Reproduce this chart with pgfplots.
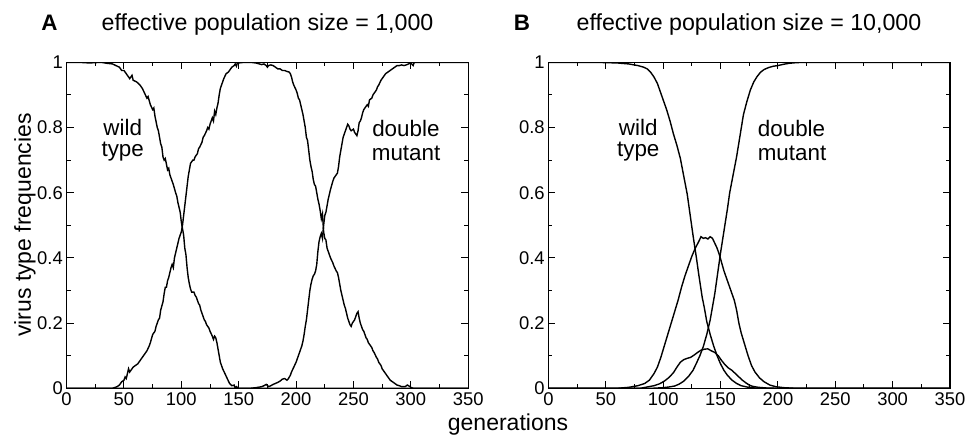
\documentclass[border=0pt]{standalone}
\usepackage{fontspec}
\setmainfont{Liberation Sans}
\usepackage{pgfplots}
\pgfplotsset{compat=1.18}
\begin{document}
\begin{tikzpicture}
\path[use as bounding box] (0,0) rectangle (483.5pt,218pt);
\pgfplotsset{myax/.style={
  width=200.8pt, height=163pt, scale only axis,
  xmin=0, xmax=350, ymin=0, ymax=1,
  xtick={0,50,100,150,200,250,300,350},
  ytick={0,0.2,0.4,0.6,0.8,1},
  minor x tick num=1, minor y tick num=1,
  tick align=inside,
  major tick length=3.5pt, minor tick length=2pt,
  axis line style={line width=0.6pt},
  every tick/.style={black, line width=0.5pt},
  tick label style={font=\fontsize{9.2}{10}\selectfont},
  xticklabel style={inner sep=2pt},
  yticklabel style={inner sep=1.7pt},
  /pgf/number format/assume math mode=true,
  cycle list={{black},{black},{black},{black}},
  every axis plot/.append style={black, line width=0.7pt, no marks, sharp plot},
  clip=true,
}}
\tikzset{lab/.style={font=\fontsize{11.2}{12}\selectfont, anchor=base, inner sep=0pt},
         lab2/.style={font=\fontsize{11.2}{10.2}\selectfont, align=center, anchor=north, inner sep=0pt}}

% ---------------- Panel A ----------------
\begin{axis}[myax, at={(33.3pt,23.85pt)}, anchor=south west]
% wild type
\addplot[black] coordinates {(0,1) (10,1) (20,0.998) (30,1) (35,0.997) (40,0.995) (43,0.99) (46,0.985) (48,0.975) (50,0.975) (52,0.965) (54,0.955) (55,0.95) (57,0.96) (58,0.945) (61,0.94) (64,0.93) (66,0.92) (68,0.905) (70,0.89) (71,0.895) (73,0.87) (75,0.855) (76,0.86) (77,0.835) (79,0.8) (80,0.79) (82,0.75) (83,0.74) (84,0.71) (85,0.7) (86,0.705) (88,0.67) (89,0.675) (90,0.655) (92,0.635) (93,0.625) (95,0.6) (96,0.59) (97,0.57) (99,0.54) (100,0.51) (101,0.49) (102,0.47) (103,0.43) (104,0.41) (105,0.37) (106,0.34) (107,0.32) (108,0.305) (109,0.295) (111,0.295) (112,0.285) (113,0.28) (115,0.26) (116,0.255) (117,0.24) (118,0.23) (120,0.21) (121,0.205) (122,0.195) (124,0.185) (125,0.175) (127,0.16) (128,0.15) (129,0.16) (130,0.155) (131,0.14) (132,0.12) (133,0.1) (134,0.08) (136,0.06) (138,0.045) (140,0.03) (142,0.015) (144,0.008) (146,0.01) (147,0) (148,0.005) (150,0) (200,0) (350,0)};
% single mutant
\addplot[black] coordinates {(0,0) (40,0) (44,0.005) (46,0.01) (48,0.02) (50,0.025) (51,0.035) (52,0.03) (53,0.045) (54,0.06) (55,0.05) (56,0.055) (58,0.065) (60,0.07) (62,0.075) (64,0.085) (66,0.095) (68,0.105) (70,0.115) (72,0.13) (73,0.14) (75,0.165) (76,0.17) (77,0.175) (78,0.19) (80,0.21) (81,0.215) (82,0.24) (84,0.265) (85,0.29) (86,0.31) (87,0.31) (88,0.33) (89,0.34) (91,0.37) (92,0.38) (93,0.37) (94,0.4) (96,0.43) (98,0.46) (100,0.48) (101,0.5) (102,0.53) (103,0.56) (104,0.59) (105,0.62) (106,0.65) (107,0.67) (108,0.69) (110,0.7) (111,0.7) (112,0.71) (114,0.72) (115,0.735) (116,0.74) (118,0.755) (119,0.77) (120,0.775) (122,0.79) (123,0.8) (124,0.795) (125,0.81) (127,0.83) (128,0.82) (129,0.85) (130,0.84) (131,0.86) (132,0.875) (133,0.9) (134,0.92) (136,0.94) (137,0.95) (139,0.965) (141,0.97) (143,0.98) (144,0.985) (146,0.99) (147,0.995) (148,0.988) (149,1) (150,0.998) (155,1) (160,1) (165,0.998) (168,0.995) (170,0.993) (172,0.995) (174,0.99) (175,0.985) (176,0.99) (178,0.992) (180,0.99) (182,0.985) (184,0.98) (186,0.98) (188,0.975) (190,0.975) (192,0.972) (194,0.97) (195,0.965) (196,0.955) (197,0.94) (198,0.93) (200,0.915) (201,0.905) (202,0.89) (203,0.885) (204,0.87) (205,0.855) (206,0.84) (207,0.82) (208,0.8) (209,0.77) (210,0.76) (211,0.73) (212,0.7) (213,0.68) (214,0.665) (215,0.64) (216,0.625) (217,0.62) (218,0.6) (219,0.58) (220,0.565) (221,0.545) (222,0.52) (223,0.535) (224,0.48) (225,0.46) (226,0.455) (227,0.43) (228,0.42) (229,0.41) (230,0.4) (232,0.385) (233,0.375) (235,0.36) (236,0.355) (237,0.34) (238,0.32) (239,0.3) (240,0.285) (241,0.27) (242,0.255) (243,0.245) (244,0.23) (245,0.215) (246,0.205) (247,0.195) (248,0.19) (249,0.2) (250,0.205) (251,0.21) (252,0.22) (253,0.23) (254,0.235) (255,0.215) (256,0.2) (257,0.19) (258,0.18) (259,0.175) (260,0.165) (261,0.155) (262,0.15) (263,0.14) (264,0.135) (266,0.125) (267,0.115) (268,0.11) (270,0.095) (271,0.09) (272,0.08) (274,0.07) (275,0.06) (276,0.055) (278,0.045) (280,0.035) (282,0.025) (284,0.02) (286,0.015) (288,0.01) (290,0.008) (292,0.005) (295,0.005) (297,0.01) (298,0.008) (300,0.003) (302,0) (350,0)};
% double mutant
\addplot[black] coordinates {(0,0) (150,0) (160,0) (165,0.002) (170,0.005) (172,0.008) (174,0.012) (176,0.005) (178,0.008) (180,0.012) (182,0.015) (184,0.018) (186,0.022) (188,0.028) (190,0.03) (192,0.025) (193,0.028) (195,0.04) (196,0.05) (198,0.065) (200,0.08) (201,0.09) (202,0.1) (204,0.12) (205,0.13) (206,0.145) (207,0.165) (208,0.19) (209,0.21) (210,0.24) (211,0.27) (212,0.3) (213,0.32) (214,0.335) (215,0.345) (216,0.35) (217,0.36) (218,0.38) (219,0.42) (220,0.45) (221,0.465) (222,0.475) (223,0.46) (224,0.5) (225,0.53) (226,0.54) (227,0.56) (228,0.58) (229,0.595) (230,0.61) (232,0.635) (233,0.645) (235,0.655) (236,0.66) (237,0.68) (238,0.71) (239,0.73) (240,0.75) (241,0.77) (242,0.78) (243,0.79) (244,0.8) (245,0.81) (246,0.805) (247,0.795) (248,0.79) (250,0.795) (251,0.785) (252,0.78) (253,0.775) (254,0.79) (255,0.815) (256,0.82) (257,0.83) (258,0.845) (259,0.855) (260,0.86) (261,0.865) (262,0.87) (263,0.865) (264,0.885) (266,0.89) (267,0.9) (268,0.905) (270,0.915) (271,0.925) (272,0.93) (274,0.945) (275,0.95) (276,0.955) (278,0.965) (280,0.97) (282,0.975) (284,0.98) (286,0.985) (288,0.99) (290,0.99) (292,0.992) (294,0.99) (296,0.992) (298,0.995) (300,0.998) (302,0.99) (303,1) (310,1) (350,1)};
\node[lab2] at (axis cs:48.9,0.826) {wild\\type};
\node[lab] at (axis cs:295.7,0.771) {double};
\node[lab] at (axis cs:295.9,0.699) {mutant};
\end{axis}

% ---------------- Panel B ----------------
\begin{axis}[myax, at={(274.2pt,23.85pt)}, anchor=south west]
% wild type
\addplot[black] coordinates {(0,1) (40,1) (60,0.998) (70,0.995) (78,0.99) (83,0.985) (86,0.98) (89,0.97) (92,0.955) (95,0.935) (97,0.915) (100,0.885) (103,0.855) (106,0.82) (109,0.78) (112,0.745) (115,0.705) (118,0.65) (121,0.595) (124,0.52) (126,0.47) (129,0.4) (131,0.35) (134,0.28) (136,0.245) (138,0.205) (141,0.165) (144,0.13) (147,0.1) (150,0.075) (153,0.055) (156,0.04) (160,0.025) (164,0.015) (168,0.008) (173,0.004) (180,0.001) (190,0) (350,0)};
% large single mutant
\addplot[black] coordinates {(0,0) (60,0) (70,0.003) (78,0.008) (84,0.015) (88,0.025) (92,0.045) (95,0.065) (98,0.095) (101,0.13) (104,0.165) (107,0.2) (110,0.235) (113,0.27) (116,0.31) (119,0.345) (122,0.375) (125,0.405) (128,0.43) (131,0.45) (133,0.465) (135,0.46) (137,0.462) (139,0.458) (141,0.465) (143,0.46) (145,0.445) (147,0.43) (149,0.41) (151,0.385) (153,0.36) (156,0.33) (159,0.3) (162,0.27) (164,0.24) (166,0.2) (168,0.17) (171,0.135) (174,0.1) (177,0.07) (180,0.05) (184,0.032) (188,0.02) (193,0.01) (198,0.005) (205,0.002) (215,0) (350,0)};
% small single mutant
\addplot[black] coordinates {(0,0) (80,0) (86,0.004) (92,0.008) (97,0.014) (101,0.022) (105,0.033) (109,0.048) (112,0.065) (115,0.08) (118,0.088) (121,0.092) (124,0.095) (127,0.102) (130,0.11) (133,0.117) (136,0.12) (139,0.121) (142,0.115) (145,0.11) (148,0.1) (151,0.085) (154,0.072) (157,0.062) (160,0.055) (163,0.045) (166,0.035) (169,0.025) (172,0.017) (175,0.01) (178,0.006) (183,0.003) (190,0.001) (200,0) (350,0)};
% double mutant
\addplot[black] coordinates {(0,0) (90,0) (100,0.002) (105,0.004) (110,0.007) (114,0.013) (118,0.022) (122,0.036) (126,0.055) (129,0.077) (132,0.1) (135,0.128) (138,0.165) (141,0.21) (143,0.25) (145,0.29) (147,0.34) (149,0.39) (150,0.415) (152,0.46) (154,0.505) (156,0.55) (158,0.6) (161,0.655) (164,0.71) (167,0.775) (170,0.84) (173,0.88) (176,0.915) (179,0.94) (182,0.957) (185,0.97) (188,0.978) (192,0.984) (196,0.988) (200,0.99) (205,0.994) (210,0.997) (216,0.999) (225,1) (350,1)};
\node[lab2] at (axis cs:78.3,0.826) {wild\\type};
\node[lab] at (axis cs:211.9,0.771) {double};
\node[lab] at (axis cs:212.3,0.699) {mutant};
\end{axis}

% ---------------- titles and labels ----------------
\node[font=\bfseries\fontsize{11.2}{12}\selectfont, anchor=base, inner sep=0pt] at (24.75pt,203pt) {A};
\node[font=\fontsize{11.6}{12}\selectfont, anchor=base, inner sep=0pt] at (133.75pt,203pt) {effective population size = 1,000};
\node[font=\bfseries\fontsize{11.2}{12}\selectfont, anchor=base, inner sep=0pt] at (261pt,203pt) {B};
\node[font=\fontsize{11.6}{12}\selectfont, anchor=base, inner sep=0pt] at (374.5pt,203pt) {effective population size = 10,000};
\node[font=\fontsize{11.5}{12}\selectfont, rotate=90, inner sep=0pt] at (12.5pt,105.5pt) {virus type frequencies};
\node[font=\fontsize{11.5}{12}\selectfont, anchor=base, inner sep=0pt] at (254pt,3pt) {generations};
\end{tikzpicture}
\end{document}
